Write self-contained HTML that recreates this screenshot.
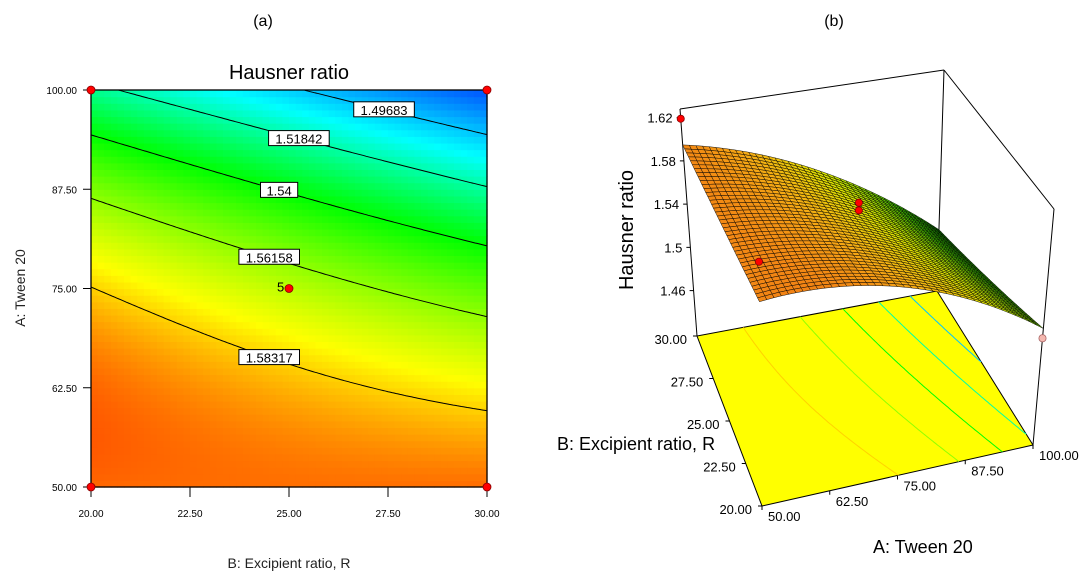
<!DOCTYPE html>
<html><head><meta charset="utf-8">
<style>
html,body{margin:0;padding:0;background:#fff;}
svg{display:block;font-family:"Liberation Sans",Arial,sans-serif;}
</style></head>
<body>
<svg id="fig" width="1092" height="576" viewBox="0 0 1092 576">
  <text x="263" y="26" font-size="16" text-anchor="middle">(a)</text>
  <text x="834" y="26" font-size="16" text-anchor="middle">(b)</text>
  <text x="289" y="79" font-size="20" text-anchor="middle">Hausner ratio</text>
  <g id="contour"></g>
  <text x="289" y="568" font-size="14" text-anchor="middle" fill="#222">B: Excipient ratio, R</text>
  <text x="0" y="0" font-size="14" text-anchor="middle" fill="#222" transform="translate(25,288) rotate(-90)">A: Tween 20</text>
  <g id="surf"></g>
  <text x="0" y="0" font-size="20" text-anchor="middle" transform="translate(633,230) rotate(-90)">Hausner ratio</text>
  <text x="557" y="450" font-size="18">B: Excipient ratio, R</text>
  <text x="873" y="553" font-size="18">A: Tween 20</text>
</svg>
<script>
// model coefficients (coded units): b0, bA, bB, bAB, bAA, bBB, bAAB
const coefNames = ['b0','bA','bB','bAB','bAA','bBB','bAAB'];
const coefVals = [1.568, -0.048, -0.01495, -0.0112, -0.0215, 0.0005, 0.0035];
const contourLevels = [1.49683, 1.51842, 1.54, 1.56158, 1.58317];
const contourLabelB = [27.4, 25.25, 24.75, 24.5, 24.5];
const xTicks = ['20.00','22.50','25.00','27.50','30.00'];
const yTicks = ['50.00','62.50','75.00','87.50','100.00'];
const designA = [100, 100, 50, 50, 75];
const designB = [20, 30, 20, 30, 25];
const zTicks = [1.46, 1.5, 1.54, 1.58, 1.62];
const zTickLabels = ['1.46','1.5','1.54','1.58','1.62'];
const ptA = [50, 50, 75, 75, 100];
const ptB = [30, 20, 25, 25, 20];
const ptZ = [1.619, 1.63, 1.592, 1.585, 1.513];
const ptBelow = [0, 0, 0, 0, 1];
const aTicks3d = ['50.00','62.50','75.00','87.50','100.00'];
const bTicks3d = ['20.00','22.50','25.00','27.50','30.00'];

const NS='http://www.w3.org/2000/svg';
function mk(tag, attrs, parent){const e=document.createElementNS(NS,tag);for(const k in attrs)e.setAttribute(k,attrs[k]);parent.appendChild(e);return e;}
const C=coefVals;
function H(A,B){const a=(A-75)/25,b=(B-25)/5;return C[0]+C[1]*a+C[2]*b+C[3]*a*b+C[4]*a*a+C[5]*b*b+C[6]*a*a*b;}
const stops=[[1.476,[0,80,255]],[1.507,[0,255,255]],[1.54,[0,255,0]],[1.578,[255,255,0]],[1.607,[255,0,0]]];
const stops3=[[1.47,[0,120,0]],[1.51,[60,190,0]],[1.55,[220,230,0]],[1.58,[245,170,20]],[1.61,[240,100,20]]];
function cmap(st,h){
  if(h<=st[0][0])return 'rgb('+st[0][1]+')';
  for(let i=1;i<st.length;i++){if(h<=st[i][0]){const t=(h-st[i-1][0])/(st[i][0]-st[i-1][0]);const c0=st[i-1][1],c1=st[i][1];return 'rgb('+c0.map((v,j)=>Math.round(v+(c1[j]-v)*t)).join(',')+')';}}
  return 'rgb('+st[st.length-1][1]+')';
}
const col=h=>cmap(stops,h);
function solveA(L,B){const b=(B-25)/5;const p0=C[0]+C[2]*b+C[5]*b*b,p1=C[1]+C[3]*b,p2=C[4]+C[6]*b;
  const qa=p2,qb=p1,qc=p0-L;const d=qb*qb-4*qa*qc;if(d<0)return null;
  const r=[(-qb+Math.sqrt(d))/(2*qa),(-qb-Math.sqrt(d))/(2*qa)].filter(x=>x>=-1.0001&&x<=1.0001);
  return r.length?75+25*r[0]:null;}

// ---- contour plot ----
const g=document.getElementById('contour');
const X0=91,X1=487,Y0=487,Y1=90;
const sx=B=>X0+(B-20)/10*(X1-X0), sy=A=>Y0-(A-50)/50*(Y0-Y1);
const N=60;
for(let i=0;i<N;i++)for(let j=0;j<N;j++){
  const B=20+(i+0.5)*10/N,A=50+(j+0.5)*50/N;
  const r=mk('rect',{x:sx(20+i*10/N),y:sy(50+(j+1)*50/N),width:(X1-X0)/N+0.6,height:(Y0-Y1)/N+0.6,fill:col(H(A,B))},g);
  
  
}
contourLevels.forEach((L,k)=>{
  let pts=[];for(let s=0;s<=200;s++){const B=20+s*10/200;const A=solveA(L,B);if(A!==null&&A<=100&&A>=50)pts.push(sx(B).toFixed(1)+','+sy(A).toFixed(1));}
  const p=mk('polyline',{points:pts.join(' '),fill:'none',stroke:'#000','stroke-width':1},g);
  
  
});
contourLevels.forEach((L,k)=>{
  const B=contourLabelB[k],A=solveA(L,B);const cx=sx(B),cy=sy(A);
  const txt=String(L);const w=txt.length*7.8+6;
  const r=mk('rect',{x:cx-w/2,y:cy-8,width:w,height:15,fill:'#fff',stroke:'#000','stroke-width':1},g);
  
  
  const t=mk('text',{x:cx,y:cy+5,'font-size':13,'text-anchor':'middle'},g);t.textContent=txt;
  
  
});
const frame=mk('rect',{x:X0,y:Y1,width:X1-X0,height:Y0-Y1,fill:'none',stroke:'#000','stroke-width':1.3},g);


xTicks.forEach((t,i)=>{const x=sx(parseFloat(t));
  const l=mk('line',{x1:x,y1:Y0,x2:x,y2:Y0+10,stroke:'#000'},g);
  
  
  const e=mk('text',{x:x,y:Y0+30,'font-size':10,'text-anchor':'middle'},g);e.textContent=t;
  
  });
yTicks.forEach((t,i)=>{const y=sy(parseFloat(t));
  const l=mk('line',{x1:X0-8,y1:y,x2:X0,y2:y,stroke:'#000'},g);
  
  
  const e=mk('text',{x:X0-14,y:y+4,'font-size':10,'text-anchor':'end'},g);e.textContent=t;
  
  });
designA.forEach((A,i)=>{
  const c=mk('circle',{cx:sx(designB[i]),cy:sy(A),r:4,fill:'#f00',stroke:'#800','stroke-width':0.8},g);
  
  
});
const five=mk('text',{x:sx(25)-12,y:sy(75)+3,'font-size':13},g);five.textContent='5';



// ---- 3D surface ----
const s=document.getElementById('surf');
const F={'00':[762,506],'10':[1033,445],'01':[697,336],'11':[937,291]};
const V={'00':[-3,-242],'10':[21,-236],'01':[-17,-227],'11':[7,-221]};
const zmin=1.418,zmax=1.628;
function bil(M,u,v){return [0,1].map(k=>M['00'][k]*(1-u)*(1-v)+M['10'][k]*u*(1-v)+M['01'][k]*(1-u)*v+M['11'][k]*u*v);}
function P(A,B,z){const u=(A-50)/50,v=(B-20)/10;const f=bil(F,u,v),w=bil(V,u,v);const t=(z-zmin)/(zmax-zmin);return [f[0]+w[0]*t,f[1]+w[1]*t];}
function ln(p,q,name){const l=mk('line',{x1:p[0],y1:p[1],x2:q[0],y2:q[1],stroke:'#000','stroke-width':1},s);}
const fl=mk('polygon',{points:[P(50,20,zmin),P(100,20,zmin),P(100,30,zmin),P(50,30,zmin)].map(p=>p.join(',')).join(' '),fill:'#ffff00',stroke:'#000','stroke-width':1},s);


contourLevels.forEach(L=>{let pts=[];for(let k=0;k<=100;k++){const B=20+k*10/100;const A=solveA(L,B);if(A!==null&&A<=100&&A>=50)pts.push(P(A,B,zmin).map(v=>v.toFixed(1)).join(','));}
  const p=mk('polyline',{points:pts.join(' '),fill:'none',stroke:col(L),'stroke-width':1},s);
  
  });
ln(P(50,30,zmin),P(50,30,zmax),'box-edge');
ln(P(100,30,zmin),P(100,30,zmax),'box-edge');
ln(P(50,30,zmax),P(100,30,zmax),'box-edge');
ln(P(100,30,zmax),P(100,20,zmax),'box-edge');
const M=40;let quads=[];
for(let i=0;i<M;i++)for(let j=0;j<M;j++){
  const A0=50+i*50/M,A1=50+(i+1)*50/M,B0=20+j*10/M,B1=20+(j+1)*10/M;
  const h=H((A0+A1)/2,(B0+B1)/2);
  const pts=[P(A0,B0,H(A0,B0)),P(A1,B0,H(A1,B0)),P(A1,B1,H(A1,B1)),P(A0,B1,H(A0,B1))];
  const d=P((A0+A1)/2,(B0+B1)/2,zmin)[1];
  quads.push({pts,h,d});
}
quads.sort((p,q)=>p.d-q.d);
quads.forEach(q=>{const pg=mk('polygon',{points:q.pts.map(p=>p[0].toFixed(1)+','+p[1].toFixed(1)).join(' '),fill:cmap(stops3,q.h),stroke:'#000','stroke-width':0.5,'stroke-opacity':0.9},s);
  
  });
ln(P(100,20,zmin),P(100,20,zmax),'box-edge');
zTicks.forEach((z,i)=>{const p=P(50,30,z);ln([p[0]-4,p[1]],p,'z-tick');
  const t=mk('text',{x:p[0]-8,y:p[1]+5,'font-size':13,'text-anchor':'end'},s);t.textContent=zTickLabels[i];
  
  });
bTicks3d.forEach(t=>{const p=P(50,parseFloat(t),zmin);ln([p[0]-4,p[1]],p,'b-tick');
  const e=mk('text',{x:p[0]-10,y:p[1]+8,'font-size':13,'text-anchor':'end'},s);e.textContent=t;
  
  });
aTicks3d.forEach(t=>{const p=P(parseFloat(t),20,zmin);ln(p,[p[0],p[1]+4],'a-tick');
  const e=mk('text',{x:p[0]+6,y:p[1]+15,'font-size':13,'text-anchor':'start'},s);e.textContent=t;
  
  });
ptA.forEach((A,i)=>{const p=P(A,ptB[i],ptZ[i]);
  const c=mk('circle',{cx:p[0],cy:p[1],r:3.6,fill:ptBelow[i]?'#f4b8b0':'#f00',stroke:ptBelow[i]?'#a66':'#800','stroke-width':0.8},s);
  
  });
</script>
</body></html>
